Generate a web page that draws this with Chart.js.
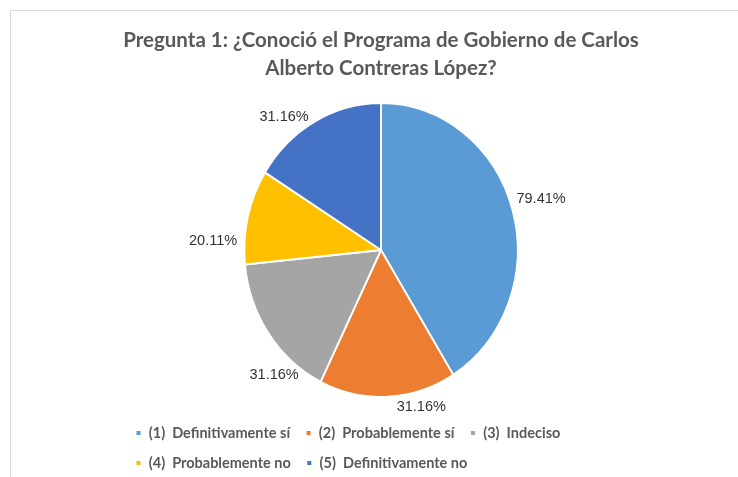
<!DOCTYPE html>
<html><head><meta charset="utf-8">
<script src="https://cdn.jsdelivr.net/npm/chart.js@4/dist/chart.umd.min.js"></script>
<style>
html,body{margin:0;padding:0;background:#fff;}
#wrap{position:relative;width:738px;height:477px;overflow:hidden;background:#fff;}
#frame{position:absolute;left:10px;top:10px;width:760px;height:500px;border:1px solid #d9d9d9;box-sizing:border-box;}
canvas{position:absolute;left:0;top:0;}
</style></head>
<body><div id="wrap"><div id="frame"></div><canvas id="c" width="738" height="481"></canvas></div>
<script>
const titleLines = ['Pregunta 1: ¿Conoció el Programa de Gobierno de Carlos', 'Alberto Contreras López?'];
const categories = ['(1)  Definitivamente sí', '(2)  Probablemente sí', '(3)  Indeciso', '(4)  Probablemente no', '(5)  Definitivamente no'];
const values = [79.41, 31.16, 31.16, 20.11, 31.16];
const valueLabels = values.map(v => v.toFixed(2) + '%');
const colors = ['#5B9BD5', '#ED7D31', '#A5A5A5', '#FFC000', '#4472C4'];

// styling / placement
const X_SCALE = 0.93;                     // reference pie is slightly squashed horizontally
const labelNudgeDeg = [-2.5, -11, -16, -10, -6];

const ellipsePlugin = {
  id: 'ellipse',
  beforeDatasetsDraw(chart) {
    const a = chart.getDatasetMeta(0).data[0];
    const ctx = chart.ctx;
    ctx.save();
    ctx.translate(a.x, a.y); ctx.scale(X_SCALE, 1); ctx.translate(-a.x, -a.y);
  },
  afterDatasetsDraw(chart) { chart.ctx.restore(); }
};

const labelPlugin = {
  id: 'outLabels',
  afterDraw(chart) {
    const ctx = chart.ctx;
    const meta = chart.getDatasetMeta(0);
    ctx.save();
    ctx.font = '14.5px "Liberation Sans", Arial, sans-serif';
    ctx.fillStyle = '#333333';
    ctx.textAlign = 'center';
    ctx.textBaseline = 'middle';
    meta.data.forEach((arc, i) => {
      const mid = (arc.startAngle + arc.endAngle) / 2 + labelNudgeDeg[i] * Math.PI / 180;
      const r = arc.outerRadius + 8;
      const ax = arc.x + Math.cos(mid) * r * X_SCALE;
      const ay = arc.y + Math.sin(mid) * r;
      const t = valueLabels[i];
      const w = ctx.measureText(t).width, h = 14;
      ctx.fillText(t, ax + Math.cos(mid) * w / 2, ay + Math.sin(mid) * h / 2);
    });
    ctx.restore();
  }
};

new Chart(document.getElementById('c'), {
  type: 'pie',
  data: {
    labels: categories,
    datasets: [{ data: values, backgroundColor: colors, borderColor: '#ffffff', borderWidth: 2 }]
  },
  options: {
    responsive: false,
    animation: false,
    devicePixelRatio: 1,
    radius: 147,
    layout: { padding: { left: 120, right: 96, top: 0, bottom: 0.75 } },
    plugins: {
      tooltip: { enabled: false },
      title: {
        display: true,
        text: titleLines,
        color: '#595959',
        font: { family: 'Lato', size: 20.5, weight: 'bold', lineHeight: 28 / 20.5 },
        padding: { top: 26.5, bottom: 7.25 }
      },
      legend: {
        display: true,
        position: 'bottom',
        align: 'start',
        labels: {
          color: '#595959',
          font: { family: 'Lato', size: 14.5, weight: 'bold' },
          boxWidth: 6,
          boxHeight: 6,
          padding: 15.5
        }
      }
    }
  },
  plugins: [ellipsePlugin, labelPlugin]
});
</script>
</body></html>
